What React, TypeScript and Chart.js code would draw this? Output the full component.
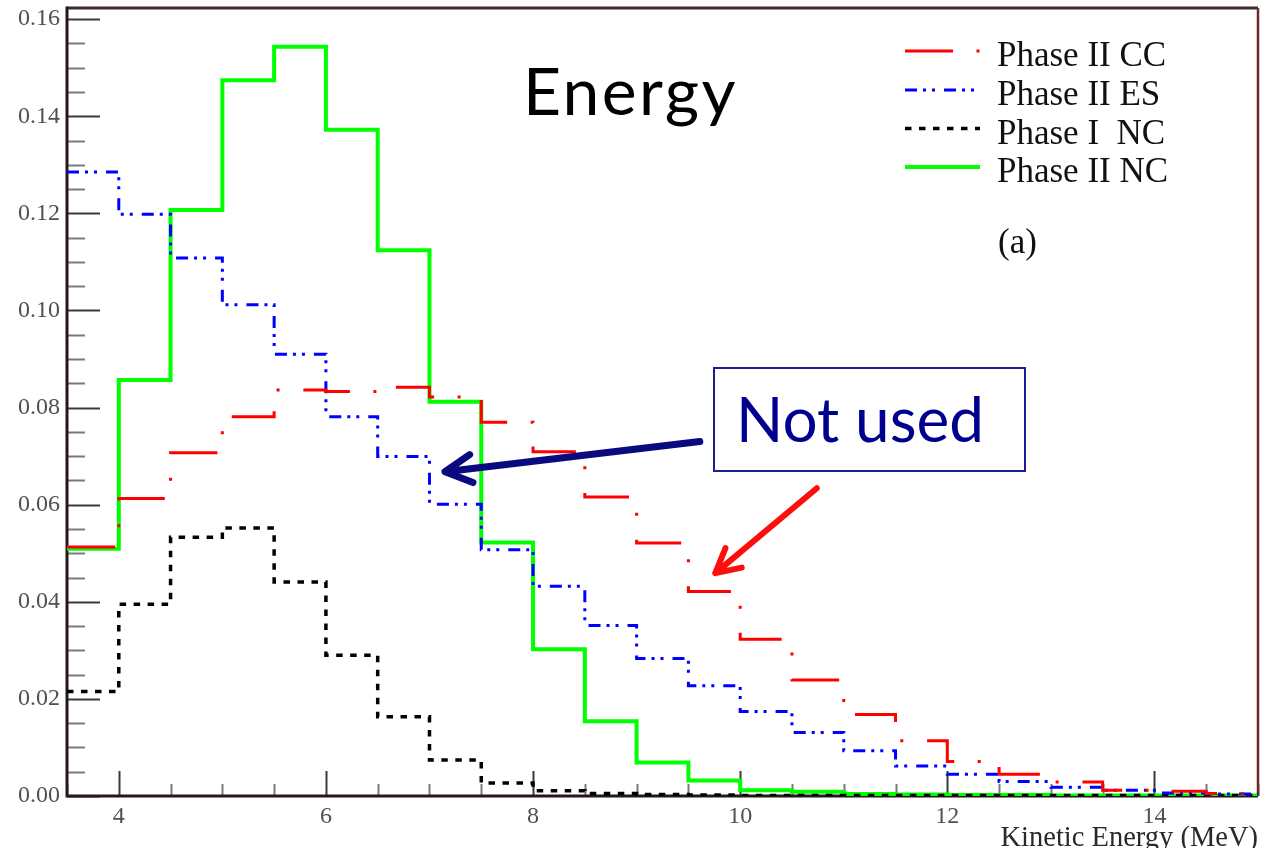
import React, { useEffect, useRef } from "react";
import { Chart, registerables } from "chart.js";

Chart.register(...registerables);

// ---- data ----
const binEdges = [3.5, 4, 4.5, 5, 5.5, 6, 6.5, 7, 7.5, 8, 8.5, 9, 9.5, 10, 10.5, 11, 11.5, 12, 12.5, 13, 13.5, 14, 14.5, 15];

const phaseIICC = [0.0513, 0.0613, 0.0707, 0.0781, 0.0836, 0.0833, 0.0842, 0.0822, 0.077, 0.0709, 0.0616, 0.0521, 0.0421, 0.0323, 0.0239, 0.0168, 0.0114, 0.0071, 0.0045, 0.0029, 0.0012, 0.001, 0.0005];
const phaseIIES = [0.1285, 0.1198, 0.1108, 0.1012, 0.091, 0.0781, 0.0699, 0.0601, 0.0507, 0.0432, 0.0351, 0.0283, 0.0227, 0.0174, 0.0131, 0.0093, 0.0062, 0.0045, 0.003, 0.0018, 0.0012, 0.0006, 0.0004];
const phaseINC = [0.0215, 0.0395, 0.0533, 0.0552, 0.0441, 0.029, 0.0163, 0.0074, 0.0027, 0.0011, 0.0005, 0.0003, 0.0002, 0.0001, 0.0001, 0.0001, 0.0001, 0.0001, 0.0001, 0.0001, 0.0001, 0.0001, 0.0001];
const phaseIINC = [0.0509, 0.0857, 0.1207, 0.1474, 0.1543, 0.1372, 0.1124, 0.0812, 0.0522, 0.0302, 0.0154, 0.0069, 0.0032, 0.0012, 0.0009, 0.0004, 0.0003, 0.0002, 0.0002, 0.0001, 0.0001, 0.0001, 0.0001];

const seriesLabels = ["Phase II CC", "Phase II ES", "Phase I  NC", "Phase II NC"];

const xTickValues = [4, 6, 8, 10, 12, 14];
const yTickValues = [0, 0.02, 0.04, 0.06, 0.08, 0.1, 0.12, 0.14, 0.16];
const xMinorStep = 0.5;
const yMinorStep = 0.005;

const xTitle = "Kinetic Energy (MeV)";
const panelTag = "(a)";

// annotation arrows, in data coordinates [x0, y0, x1, y1] (tail -> tip)
const blueArrow = [9.61, 0.073, 7.15, 0.0668];
const redArrow = [10.74, 0.0634, 9.76, 0.0459];

const SERIF = "'Liberation Serif', 'DejaVu Serif', serif";

const toSteps = (vals: number[]) =>
  binEdges.map((x, i) => ({ x, y: vals[Math.min(i, vals.length - 1)] }));

const framePlugin = {
  id: "rootFrame",
  beforeDatasetsDraw(chart: any) {
    const { ctx, chartArea, scales } = chart;
    const { left, right, top, bottom } = chartArea;
    const xs = scales.x;
    const ys = scales.y;
    ctx.save();
    ctx.lineCap = "butt";
    const nY = Math.round(ys.max / yMinorStep);
    for (let k = 0; k <= nY; k++) {
      const v = k * yMinorStep;
      const major = yTickValues.some((t) => Math.abs(t - v) < 1e-9);
      const py = Math.round(ys.getPixelForValue(v)) + 0.5;
      ctx.strokeStyle = major ? "#3a3a3a" : "#7a7a7a";
      ctx.lineWidth = 2;
      ctx.beginPath();
      ctx.moveTo(left, py);
      ctx.lineTo(left + (major ? 33 : 18), py);
      ctx.stroke();
    }
    const nX = Math.round((xs.max - xs.min) / xMinorStep);
    for (let k = 0; k <= nX; k++) {
      const v = xs.min + k * xMinorStep;
      const major = xTickValues.some((t) => Math.abs(t - v) < 1e-9);
      const px = Math.round(xs.getPixelForValue(v)) + 0.5;
      ctx.strokeStyle = major ? "#3a3a3a" : "#7a7a7a";
      ctx.lineWidth = 2;
      ctx.beginPath();
      ctx.moveTo(px, bottom);
      ctx.lineTo(px, bottom - (major ? 25 : 12));
      ctx.stroke();
    }
    ctx.lineWidth = 3;
    ctx.strokeStyle = "#3d2f2f";
    ctx.beginPath();
    ctx.moveTo(left, top);
    ctx.lineTo(right, top);
    ctx.stroke();
    ctx.strokeStyle = "#6e2a2a";
    ctx.lineWidth = 2.5;
    ctx.beginPath();
    ctx.moveTo(right, top);
    ctx.lineTo(right, bottom);
    ctx.stroke();
    ctx.lineWidth = 3;
    ctx.strokeStyle = "#241818";
    ctx.beginPath();
    ctx.moveTo(left, top - 1.5);
    ctx.lineTo(left, bottom);
    ctx.lineTo(right, bottom);
    ctx.stroke();
    ctx.restore();
  },
  afterDraw(chart: any) {
    const { ctx, chartArea, scales } = chart;
    const xs = scales.x;
    const ys = scales.y;
    ctx.save();
    const lx0 = chartArea.right - 353;
    const lx1 = chartArea.right - 278;
    const tx = chartArea.right - 261;
    const rowY = [51, 90, 128.5, 167];
    chart.data.datasets.forEach((ds: any, i: number) => {
      const y = rowY[i];
      ctx.strokeStyle = ds.borderColor;
      ctx.lineWidth = ds.borderWidth;
      ctx.setLineDash(ds.borderDash || []);
      ctx.beginPath();
      ctx.moveTo(lx0, y);
      ctx.lineTo(lx1, y);
      ctx.stroke();
      ctx.setLineDash([]);
      ctx.fillStyle = "#111";
      ctx.font = `35px ${SERIF}`;
      ctx.textAlign = "left";
      ctx.textBaseline = "alphabetic";
      ctx.fillText(ds.label, tx, y + 15);
    });
    ctx.fillText(panelTag, tx + 1, 253);

    const drawArrow = (a: number[], color: string, width: number, head: number) => {
      const x0 = xs.getPixelForValue(a[0]);
      const y0 = ys.getPixelForValue(a[1]);
      const x1 = xs.getPixelForValue(a[2]);
      const y1 = ys.getPixelForValue(a[3]);
      const ang = Math.atan2(y0 - y1, x0 - x1);
      const spread = (28 * Math.PI) / 180;
      ctx.strokeStyle = color;
      ctx.lineWidth = width;
      ctx.lineCap = "round";
      ctx.lineJoin = "round";
      ctx.beginPath();
      ctx.moveTo(x0, y0);
      ctx.lineTo(x1, y1);
      ctx.moveTo(x1 + head * Math.cos(ang - spread), y1 + head * Math.sin(ang - spread));
      ctx.lineTo(x1, y1);
      ctx.lineTo(x1 + head * Math.cos(ang + spread), y1 + head * Math.sin(ang + spread));
      ctx.stroke();
    };
    drawArrow(blueArrow, "#0a0a80", 7, 30);
    drawArrow(redArrow, "#ff0d0d", 6, 27);
    ctx.restore();
  },
};

export default function App() {
  const canvasRef = useRef<HTMLCanvasElement | null>(null);

  useEffect(() => {
    const canvas = canvasRef.current;
    if (!canvas) return;
    const tickFont = { family: SERIF, size: 24 };
    const chart = new Chart(canvas, {
      type: "line",
      data: {
        datasets: [
          { label: seriesLabels[0], data: toSteps(phaseIICC), borderColor: "#ff0000", borderWidth: 3, borderDash: [48, 23.5, 3, 23.8] },
          { label: seriesLabels[1], data: toSteps(phaseIIES), borderColor: "#0000ff", borderWidth: 3, borderDash: [12, 6, 3, 6, 3, 9] },
          { label: seriesLabels[2], data: toSteps(phaseINC), borderColor: "#000000", borderWidth: 3.5, borderDash: [6.5, 7.5] },
          { label: seriesLabels[3], data: toSteps(phaseIINC), borderColor: "#00ff00", borderWidth: 4, borderDash: [] },
        ].map((d) => ({ ...d, stepped: "before", pointRadius: 0, fill: false, tension: 0, borderCapStyle: "butt", borderJoinStyle: "miter" })) as any,
      },
      options: {
        animation: false,
        responsive: false,
        devicePixelRatio: 1,
        layout: { padding: { top: 8, right: 12, left: 0, bottom: 0 } },
        plugins: { legend: { display: false }, tooltip: { enabled: false } },
        events: [],
        scales: {
          x: {
            type: "linear",
            min: 3.5,
            max: 15,
            grid: { display: false, drawTicks: false },
            border: { display: false },
            afterBuildTicks: (s: any) => {
              s.ticks = xTickValues.map((v) => ({ value: v }));
            },
            afterFit: (s: any) => {
              s.height = 52;
              s.paddingLeft = 0;
              s.paddingRight = 0;
            },
            ticks: { font: tickFont, color: "#505050", padding: 6, maxRotation: 0, autoSkip: false },
            title: {
              display: true,
              text: xTitle,
              align: "end",
              color: "#2a2a2a",
              font: { family: SERIF, size: 28.5, lineHeight: 1 },
              padding: { top: 0, bottom: -5 },
            },
          },
          y: {
            type: "linear",
            min: 0,
            max: 0.1623,
            grid: { display: false, drawTicks: false },
            border: { display: false },
            afterBuildTicks: (s: any) => {
              s.ticks = yTickValues.map((v) => ({ value: v }));
            },
            afterFit: (s: any) => {
              s.width = 67;
              s.paddingTop = 0;
              s.paddingBottom = 0;
            },
            ticks: {
              font: tickFont,
              color: "#505050",
              padding: 7,
              autoSkip: false,
              callback: (v: any) => Number(v).toFixed(2),
            },
          },
        },
      } as any,
      plugins: [framePlugin],
    });
    return () => chart.destroy();
  }, []);

  return (
    <div style={{ position: "fixed", left: 0, top: 0, width: 1270, height: 848, background: "#fff", overflow: "hidden" }}>
      <canvas ref={canvasRef} width={1270} height={848} style={{ position: "absolute", left: 0, top: 0, width: 1270, height: 848 }} />
      <div
        style={{
          position: "absolute",
          left: 523,
          top: 56.5,
          font: "66px Lato, 'Open Sans', sans-serif",
          lineHeight: "66px",
          letterSpacing: "2.4px",
          color: "#000",
          whiteSpace: "nowrap",
        }}
      >
        Energy
      </div>
      <div
        style={{
          position: "absolute",
          left: 713,
          top: 367,
          width: 313,
          height: 105,
          boxSizing: "border-box",
          border: "2px solid #1c1c96",
          background: "#fff",
        }}
      >
        <span
          style={{
            position: "absolute",
            left: 21,
            top: 18,
            font: "62px Lato, 'Open Sans', sans-serif",
            lineHeight: "62px",
            color: "#00008e",
            whiteSpace: "nowrap",
          }}
        >
          Not used
        </span>
      </div>
    </div>
  );
}
